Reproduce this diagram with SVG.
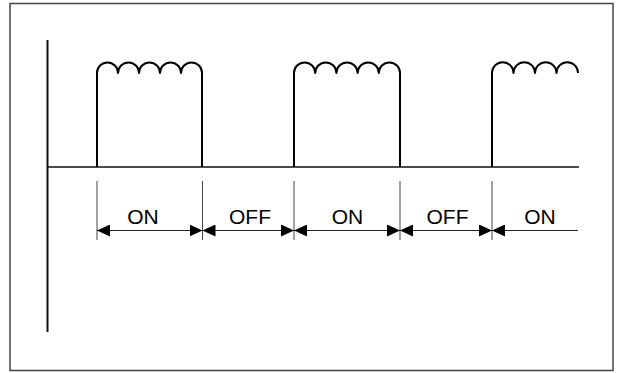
<svg xmlns="http://www.w3.org/2000/svg" width="622" height="373" viewBox="0 0 622 373">
<style>
.frame{fill:#fff;stroke:#444;stroke-width:1.5}
.wave{fill:none;stroke:#000;stroke-width:2;stroke-linejoin:round}
.axis{fill:none;stroke:#111;stroke-width:2}
.base{fill:none;stroke:#111;stroke-width:1.6}
.tick{fill:none;stroke:#444;stroke-width:1}
.dim{fill:none;stroke:#222;stroke-width:1.2}
.lbl{font-family:"Liberation Sans",Arial,sans-serif;font-size:21px;fill:#000;text-anchor:middle}
</style>
<defs>
<marker id="ah" viewBox="0 0 13 12" refX="13" refY="6" markerWidth="13" markerHeight="12" markerUnits="userSpaceOnUse" orient="auto-start-reverse">
<path d="M0,0 L13,6 L0,12 Z" fill="#000"/>
</marker>
</defs>
<rect class="frame" x="10" y="3.5" width="603" height="367"/>
<g id="axes">
<line class="axis" x1="47.5" y1="40" x2="47.5" y2="332"/>
<line class="base" x1="47.5" y1="167" x2="579" y2="167"/>
</g>
<g id="pulse1">
<path class="wave" d="M97,167 V73 A10.5,10.5 0 0 1 118,73 A10.5,10.5 0 0 1 139,73 A10.5,10.5 0 0 1 160,73 A10.5,10.5 0 0 1 181,73 A10.5,10.5 0 0 1 202,73 V167"/>
</g>
<g id="pulse2">
<path class="wave" d="M294,167 V73 A10.6,10.6 0 0 1 315.2,73 A10.6,10.6 0 0 1 336.4,73 A10.6,10.6 0 0 1 357.6,73 A10.6,10.6 0 0 1 378.8,73 A10.6,10.6 0 0 1 400,73 V167"/>
</g>
<g id="pulse3">
<path class="wave" d="M492,167 V73 A10.75,10.75 0 0 1 513.5,73 A10.75,10.75 0 0 1 535,73 A10.75,10.75 0 0 1 556.5,73 A10.75,10.75 0 0 1 578,73"/>
</g>
<g id="connectors">
<line class="tick" x1="97" y1="181" x2="97" y2="240"/>
<line class="tick" x1="202.5" y1="181" x2="202.5" y2="240"/>
<line class="tick" x1="294" y1="181" x2="294" y2="240"/>
<line class="tick" x1="400" y1="181" x2="400" y2="240"/>
<line class="tick" x1="492" y1="181" x2="492" y2="240"/>
<line class="dim" x1="97" y1="230.5" x2="202.5" y2="230.5" marker-start="url(#ah)" marker-end="url(#ah)"/>
<line class="dim" x1="202.5" y1="230.5" x2="294" y2="230.5" marker-start="url(#ah)" marker-end="url(#ah)"/>
<line class="dim" x1="294" y1="230.5" x2="400" y2="230.5" marker-start="url(#ah)" marker-end="url(#ah)"/>
<line class="dim" x1="400" y1="230.5" x2="492" y2="230.5" marker-start="url(#ah)" marker-end="url(#ah)"/>
<line class="dim" x1="492" y1="230.5" x2="578" y2="230.5" marker-start="url(#ah)"/>
</g>
<g id="labels">
<text class="lbl" x="143" y="223.5">ON</text>
<text class="lbl" x="250" y="223.5">OFF</text>
<text class="lbl" x="347.5" y="223.5">ON</text>
<text class="lbl" x="447.5" y="223.5">OFF</text>
<text class="lbl" x="540" y="223.5">ON</text>
</g>
</svg>
